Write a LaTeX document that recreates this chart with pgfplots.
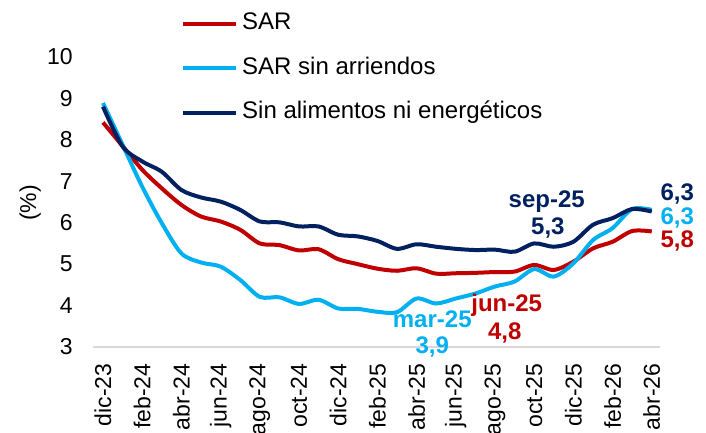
\documentclass[border=0pt]{standalone}
\usepackage{fontspec}
\setmainfont{Liberation Sans}
\usepackage{pgfplots}
\pgfplotsset{compat=1.18}
\definecolor{sarred}{HTML}{C00000}
\definecolor{sarlight}{HTML}{00B0F0}
\definecolor{sardark}{HTML}{002060}
\begin{document}
\begin{tikzpicture}[font=\fontsize{23bp}{27bp}\selectfont]
\begin{axis}[
  scale only axis, width=566.4bp, height=290bp,
  xmin=-0.5, xmax=28.4, ymin=3, ymax=10,
  xtick={0,2,...,28},
  xticklabels={dic-23,feb-24,abr-24,jun-24,ago-24,oct-24,dic-24,feb-25,abr-25,jun-25,ago-25,oct-25,dic-25,feb-26,abr-26},
  ytick={3,4,...,10},
  axis x line*=bottom, axis y line*=left,
  y axis line style={draw=none},
  x axis line style={draw=black!15, line width=1.5bp, -},
  major tick length=0pt,
  xticklabel style={rotate=90, anchor=east},
  xticklabel shift=13bp,
  yticklabel style={xshift=-17bp},
  /pgf/number format/assume math mode=true,
  clip=false,
  legend cell align=left,
  legend style={draw=none, fill=none, at={(0.155,1.16)}, anchor=north west,
    row sep=18.5bp, column sep=2bp, inner sep=0pt,
    font=\fontsize{24bp}{28bp}\selectfont,
    nodes={text height=17bp, text depth=5bp, inner sep=2bp}},
  legend image code/.code={\draw[#1] (0bp,0bp) -- (53bp,0bp);},
  every axis plot/.append style={line width=4bp, smooth, tension=0.5},
]
\addplot[sarred] coordinates {
(0,8.42)(1,7.85)(2,7.28)(3,6.83)(4,6.43)(5,6.15)(6,6.03)(7,5.83)(8,5.50)(9,5.46)
(10,5.33)(11,5.36)(12,5.12)(13,5.00)(14,4.89)(15,4.84)(16,4.90)(17,4.77)(18,4.78)(19,4.79)
(20,4.81)(21,4.82)(22,4.98)(23,4.86)(24,5.06)(25,5.38)(26,5.54)(27,5.80)(28,5.79)};
\addlegendentry{SAR}
\addplot[sarlight] coordinates {
(0,8.89)(1,7.88)(2,6.87)(3,5.99)(4,5.26)(5,5.04)(6,4.94)(7,4.62)(8,4.21)(9,4.20)
(10,4.04)(11,4.14)(12,3.93)(13,3.92)(14,3.85)(15,3.84)(16,4.17)(17,4.05)(18,4.17)(19,4.29)
(20,4.46)(21,4.58)(22,4.88)(23,4.70)(24,5.02)(25,5.58)(26,5.87)(27,6.33)(28,6.31)};
\addlegendentry{SAR sin arriendos}
\addplot[sardark] coordinates {
(0,8.80)(1,7.84)(2,7.48)(3,7.23)(4,6.79)(5,6.61)(6,6.51)(7,6.31)(8,6.03)(9,6.01)
(10,5.91)(11,5.91)(12,5.71)(13,5.67)(14,5.56)(15,5.37)(16,5.48)(17,5.42)(18,5.37)(19,5.34)
(20,5.35)(21,5.30)(22,5.50)(23,5.42)(24,5.54)(25,5.95)(26,6.11)(27,6.33)(28,6.27)};
\addlegendentry{Sin alimentos ni energéticos}
\node[rotate=90] at (axis cs:-3.72,6.48) {(\%)};
\begin{scope}[font=\fontsize{24bp}{28bp}\selectfont\bfseries]
\node[text=sardark] at (axis cs:22.64,6.51) {sep-25};
\node[text=sardark] at (axis cs:22.7,5.87) {5,3};
\node[text=sarred] at (axis cs:20.6,4.01) {jun-25};
\node[text=sarred] at (axis cs:20.5,3.35) {4,8};
\node[text=sarlight] at (axis cs:16.8,3.67) {mar-25};
\node[text=sarlight] at (axis cs:16.8,3.01) {3,9};
\node[text=sardark] at (axis cs:29.3,6.69) {6,3};
\node[text=sarlight] at (axis cs:29.3,6.11) {6,3};
\node[text=sarred] at (axis cs:29.3,5.55) {5,8};
\end{scope}
\end{axis}
\pgfresetboundingbox
\path[use as bounding box] (-93.2bp,-86bp) rectangle (612.8bp,347bp);
\end{tikzpicture}
\end{document}
